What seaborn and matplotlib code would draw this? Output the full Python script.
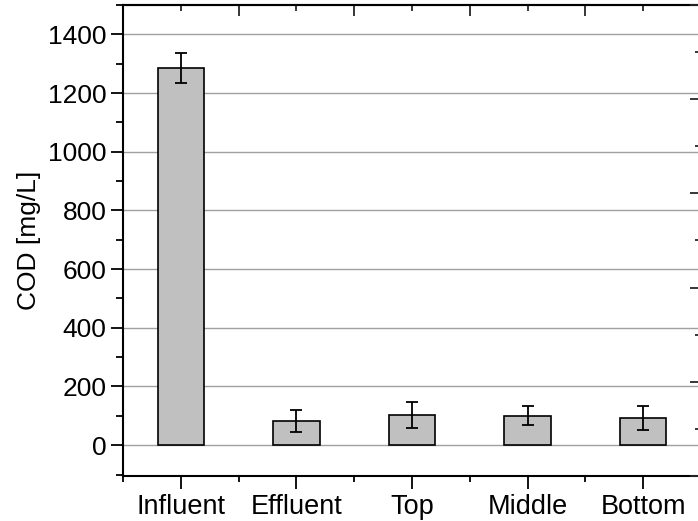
import matplotlib
matplotlib.use("Agg")
import matplotlib.pyplot as plt
from matplotlib.ticker import MultipleLocator
import seaborn as sns
import pandas as pd

# COD measured at each sampling point (mean and standard deviation)
locations = ["Influent", "Effluent", "Top", "Middle", "Bottom"]
cod_mean = [1286, 83, 103, 101, 92]
cod_std = [51, 38, 45, 33, 41]

df = pd.DataFrame({"location": locations, "cod": cod_mean})

sns.set_style("white")
plt.rcParams["font.family"] = ["Liberation Sans", "DejaVu Sans"]

fig = plt.figure(figsize=(6.98, 5.21), dpi=100)
ax = fig.add_axes([0.1762, 0.0864, 0.8281, 0.904])

ax.yaxis.grid(True, color="#a0a0a0", linewidth=1.0, zorder=0)
ax.set_axisbelow(True)

sns.barplot(data=df, x="location", y="cod", color="#c0c0c0", width=0.4,
            saturation=1, edgecolor="black", linewidth=1.2, errorbar=None,
            ax=ax, zorder=2)
ax.errorbar(range(len(locations)), cod_mean, yerr=cod_std, fmt="none",
            ecolor="black", elinewidth=1.3, capsize=4.5, capthick=1.3, zorder=3)

ax.set_xlim(-0.5, len(locations) - 0.5)
ax.set_ylim(-105, 1500)
ax.yaxis.set_major_locator(MultipleLocator(200))
ax.yaxis.set_minor_locator(MultipleLocator(100))
ax.xaxis.set_minor_locator(MultipleLocator(0.5))

ax.set_xlabel("")
ax.set_ylabel("COD [mg/L]", fontsize=19, color="black", labelpad=5)

for s in ax.spines.values():
    s.set_linewidth(1.5)
    s.set_color("black")

ax.tick_params(axis="both", which="both", colors="black", width=1.3)
ax.tick_params(axis="y", which="major", direction="out", length=9, pad=3,
               left=True, labelsize=19)
ax.tick_params(axis="y", which="minor", direction="out", length=5, left=True)
ax.tick_params(axis="x", which="major", direction="out", length=9, pad=4,
               bottom=True, labelsize=19.5)
ax.tick_params(axis="x", which="minor", direction="out", length=4, bottom=True)

# top axis: ticks pointing inward, long between groups, short at groups
top = ax.secondary_xaxis("top")
top.set_xticks([i + 0.5 for i in range(-1, len(locations))])
top.set_xticks(list(range(len(locations))), minor=True)
top.tick_params(axis="x", which="major", direction="in", length=8, width=1.3,
                labeltop=False)
top.tick_params(axis="x", which="minor", direction="in", length=4, width=1.3)
top.spines["top"].set_linewidth(1.5)

# right axis with its own scale, ticks pointing inward
right = ax.twinx()
right.set_ylim(0, 5)
right.yaxis.set_major_locator(MultipleLocator(1))
right.yaxis.set_minor_locator(MultipleLocator(0.5))
right.tick_params(axis="y", which="major", direction="in", length=8, width=1.3,
                  labelright=False)
right.tick_params(axis="y", which="minor", direction="in", length=4, width=1.3)
for s in right.spines.values():
    s.set_visible(False)

fig.savefig("out.png", dpi=100)
